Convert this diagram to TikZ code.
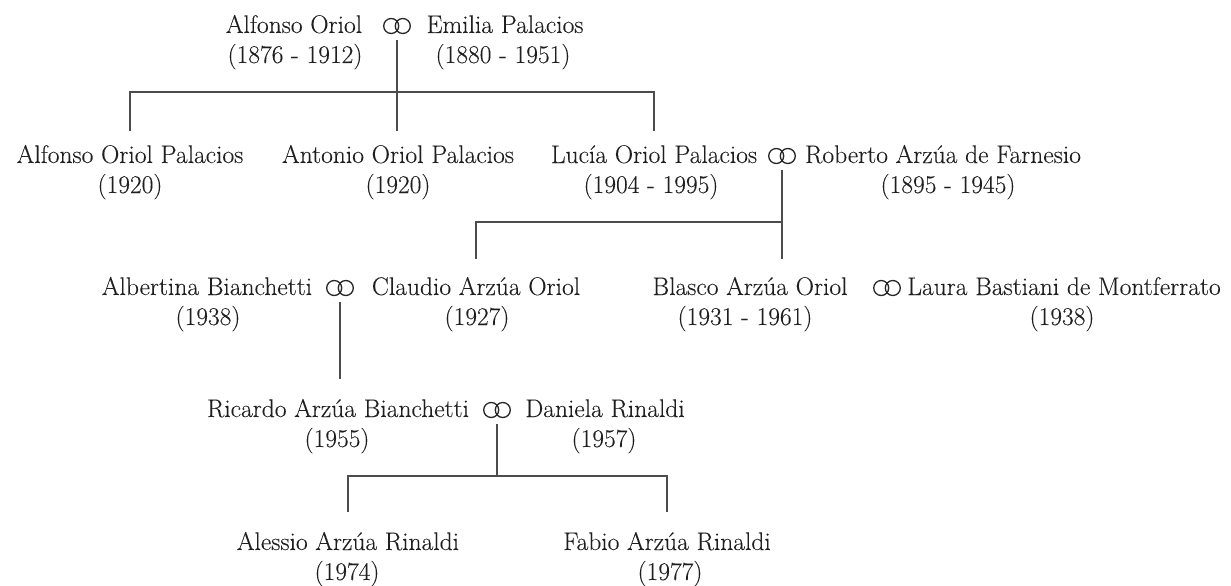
\documentclass[tikz,border=0pt]{standalone}
\usepackage{fontspec}
\setmainfont{Latin Modern Roman}[FakeBold=0.12]
\usepackage{tikz}

\begin{document}
\begin{tikzpicture}[x=1pt,y=-1pt,
  person/.style={anchor=base,inner sep=0pt,text=black!88,font=\fontsize{25.5}{30}\selectfont},
  dates/.style={person},
  ring/.style={inner sep=0pt,minimum width=30pt,minimum height=28pt,
    path picture={\draw[black!85,line width=1.3pt]
      ([xshift=-5.8pt]path picture bounding box.center) circle (7.5pt)
      ([xshift=5.8pt]path picture bounding box.center) circle (7.5pt);}},
  line/.style={draw=black!70,line width=1.3pt}]
\useasboundingbox (0,0) rectangle (1231,586);
% first generation
\node [person] (ao) at (294,33) {Alfonso Oriol};
\node [dates] (aoy) at (295,63) {(1876 - 1912)};
\node [ring] (r1) at (397,26) {};
\node [person] (ep) at (505,33) {Emilia Palacios};
\node [dates] (epy) at (503,63) {(1880 - 1951)};
% second generation
\node [person] (aop) at (130,163) {Alfonso Oriol Palacios};
\node [dates] (aopy) at (130,193) {(1920)};
\node [person] (ant) at (398,163) {Antonio Oriol Palacios};
\node [dates] (anty) at (398,193) {(1920)};
\node [person] (luc) at (654,163) {Lucía Oriol Palacios};
\node [dates] (lucy) at (651,193) {(1904 - 1995)};
\node [ring] (r2) at (782,156) {};
\node [person] (rob) at (943,163) {Roberto Arzúa de Farnesio};
\node [dates] (roby) at (948,193) {(1895 - 1945)};
% third generation
\node [person] (alb) at (207,295) {Albertina Bianchetti};
\node [dates] (alby) at (208,325) {(1938)};
\node [ring] (r3) at (340,288) {};
\node [person] (cla) at (476,295) {Claudio Arzúa Oriol};
\node [dates] (clay) at (477,325) {(1927)};
\node [person] (bla) at (750,295) {Blasco Arzúa Oriol};
\node [dates] (blay) at (745,325) {(1931 - 1961)};
\node [ring] (r4) at (887,288) {};
\node [person] (lau) at (1064,295) {Laura Bastiani de Montferrato};
\node [dates] (lauy) at (1062,325) {(1938)};
% fourth generation
\node [person] (ric) at (338,417) {Ricardo Arzúa Bianchetti};
\node [dates] (ricy) at (337,447) {(1955)};
\node [ring] (r5) at (497,410) {};
\node [person] (dan) at (605,417) {Daniela Rinaldi};
\node [dates] (dany) at (604,447) {(1957)};
% fifth generation
\node [person] (ale) at (348,550) {Alessio Arzúa Rinaldi};
\node [dates] (aley) at (347,580) {(1974)};
\node [person] (fab) at (667,550) {Fabio Arzúa Rinaldi};
\node [dates] (faby) at (670,580) {(1977)};
% connectors
\coordinate (b1) at (397,92);
\coordinate (b2) at (782,222);
\coordinate (b3) at (497,476);
\draw [line,shorten >=14pt] (r1.south) -- (r1.south |- ant.north);
\draw [line,shorten <=14pt,shorten >=14pt] (aop.north) |- (b1) -| (luc.north);
\draw [line,shorten >=18pt] (r2.south) -- (r2.south |- bla.north);
\draw [line,shorten <=18pt] (cla.north) |- (b2);
\draw [line,shorten >=20pt] (r3.south) -- (r3.south |- ric.north);
\draw [line] (r5.south) -- (b3);
\draw [line,shorten <=20pt,shorten >=20pt] (ale.north) |- (b3) -| (fab.north);
\end{tikzpicture}
\end{document}
